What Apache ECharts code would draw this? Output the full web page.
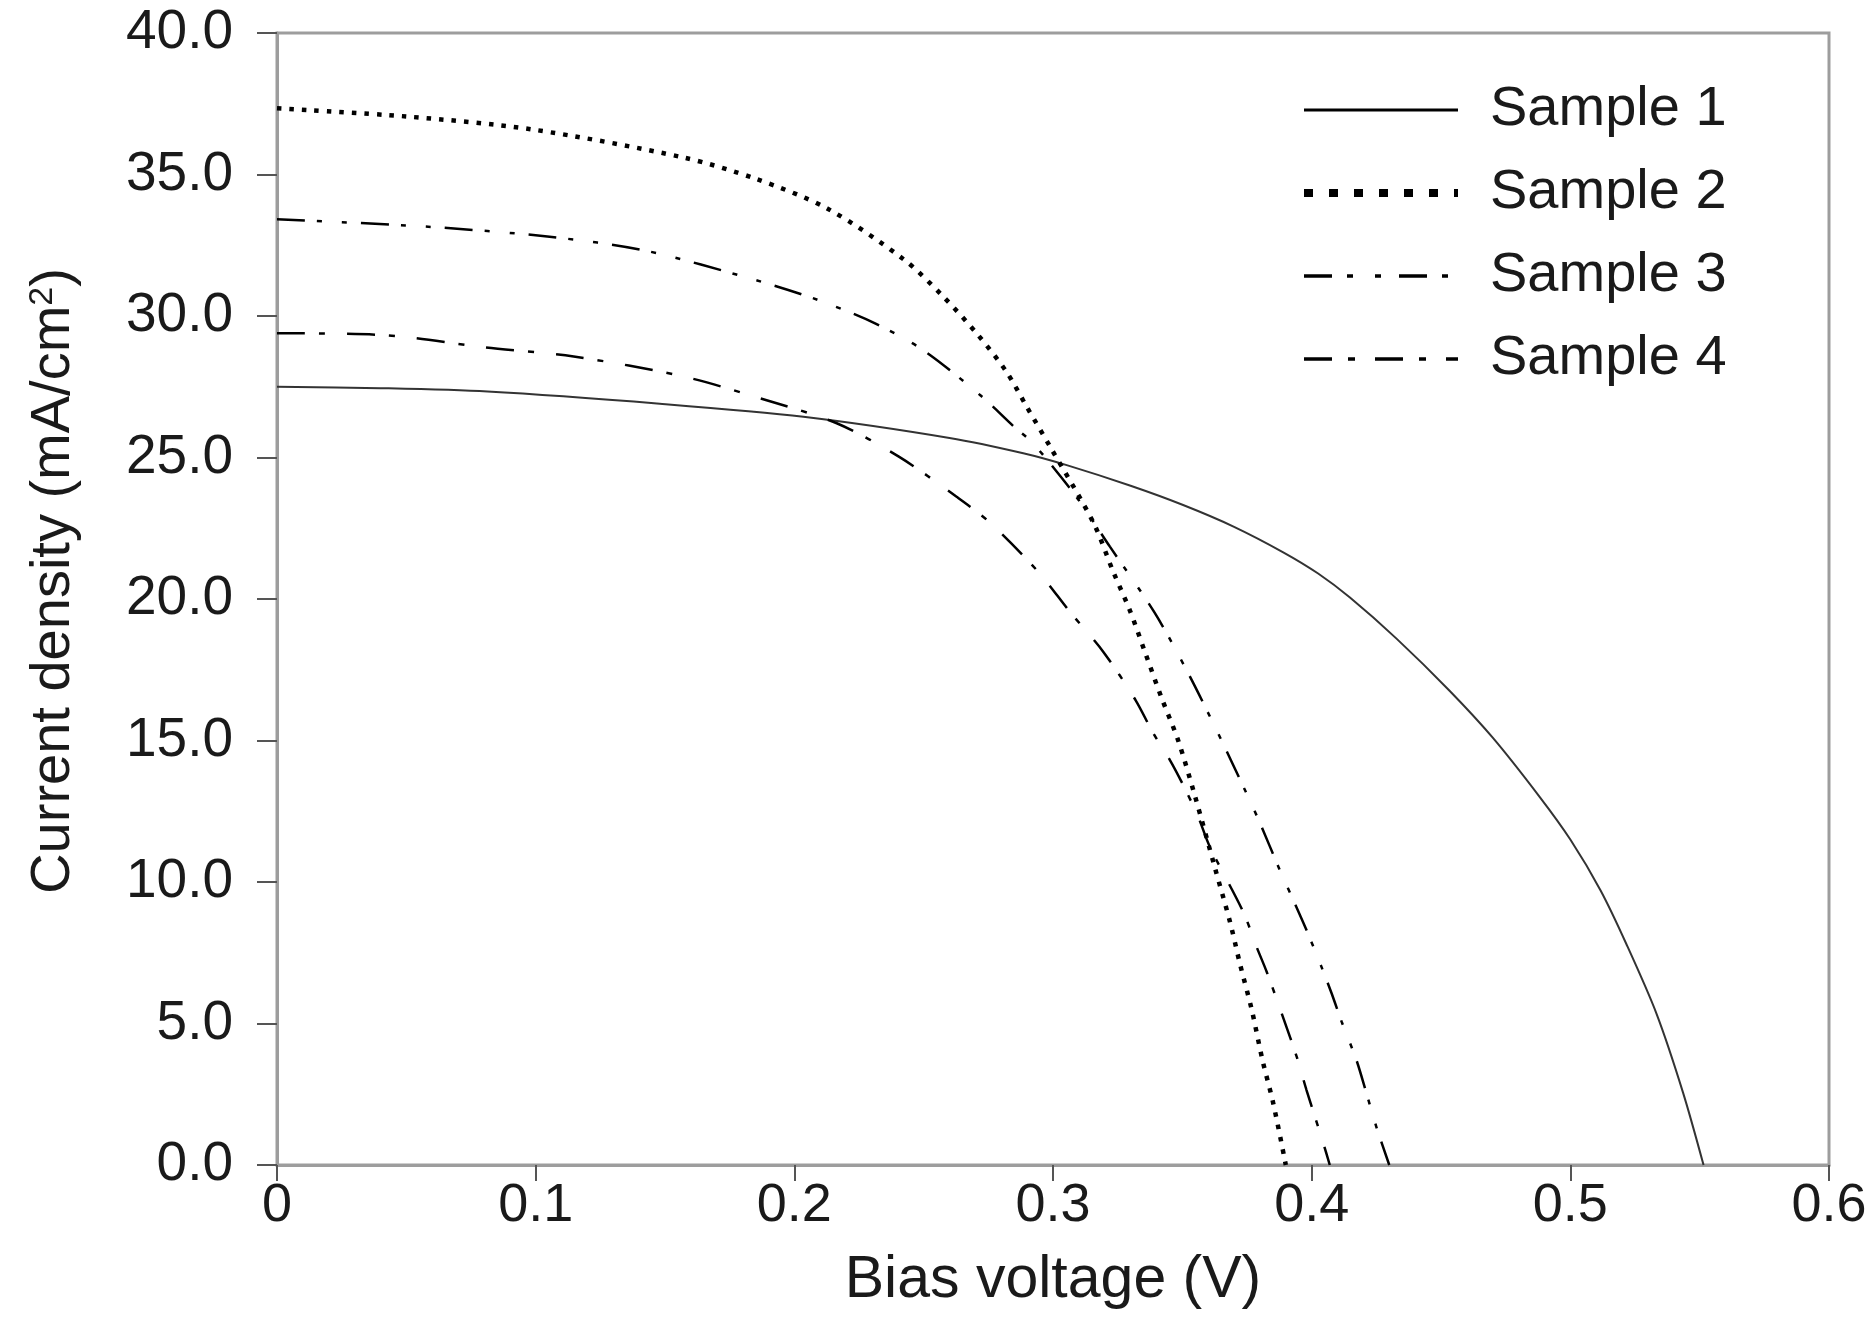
<!DOCTYPE html>
<html>
<head>
<meta charset="utf-8">
<script src="https://cdn.jsdelivr.net/npm/echarts@6/dist/echarts.min.js"></script>
<style>
html,body{margin:0;padding:0;background:#fff;}
#chart{width:1872px;height:1343px;}
</style>
</head>
<body>
<div id="chart"></div>
<script>
// ---- data (Bias voltage V, Current density mA/cm2) ----
const xTickLabels = ['0', '0.1', '0.2', '0.3', '0.4', '0.5', '0.6'];
const yTickLabels = ['0.0', '5.0', '10.0', '15.0', '20.0', '25.0', '30.0', '35.0', '40.0'];
const seriesNames = ['Sample 1', 'Sample 2', 'Sample 3', 'Sample 4'];

const sample1 = [
  [0, 27.5], [0.04, 27.45], [0.0814, 27.33], [0.148, 26.9], [0.2035, 26.44],
  [0.26, 25.69], [0.2885, 25.15], [0.3053, 24.73], [0.33, 24.0], [0.3503, 23.32],
  [0.37, 22.55], [0.389, 21.65], [0.4025, 20.9], [0.4148, 20.05], [0.4328, 18.6],
  [0.4534, 16.75], [0.47, 15.1], [0.4882, 13.0], [0.5, 11.5], [0.5117, 9.7],
  [0.5217, 7.8], [0.5333, 5.35], [0.5436, 2.55], [0.5515, 0]
];
const sample2 = [
  [0, 37.34], [0.05, 37.05], [0.098, 36.6], [0.1572, 35.6], [0.185, 34.85],
  [0.2127, 33.8], [0.2423, 32.0], [0.257, 30.74], [0.271, 29.33], [0.282, 28.03],
  [0.2898, 26.8], [0.2989, 25.38], [0.3156, 22.7], [0.3233, 20.96], [0.3297, 19.6],
  [0.3355, 18.14], [0.342, 16.5], [0.3484, 15.0], [0.355, 13.0], [0.3626, 10.5],
  [0.3684, 8.6], [0.3723, 7.1], [0.3768, 5.5], [0.381, 3.7], [0.3851, 2.2], [0.39, 0]
];
const sample3 = [
  [0, 33.42], [0.0573, 33.16], [0.1054, 32.8], [0.1424, 32.31], [0.185, 31.27],
  [0.209, 30.57], [0.2312, 29.74], [0.2497, 28.8], [0.2719, 27.2], [0.2849, 26.09],
  [0.2923, 25.5], [0.3091, 23.6], [0.322, 21.85], [0.3394, 19.5], [0.3523, 17.37],
  [0.3632, 15.37], [0.3742, 13.25], [0.3797, 12.15], [0.3877, 10.42], [0.3929, 9.36],
  [0.398, 8.3], [0.4038, 7.0], [0.4077, 6.07], [0.4116, 5.06], [0.4173, 3.71],
  [0.4212, 2.53], [0.425, 1.35], [0.43, 0]
];
const sample4 = [
  [0, 29.39], [0.0407, 29.33], [0.0795, 28.9], [0.1147, 28.57], [0.1572, 27.86],
  [0.1868, 27.09], [0.2164, 26.21], [0.2404, 25.03], [0.2626, 23.62], [0.2756, 22.7],
  [0.2943, 20.96], [0.3065, 19.55], [0.3194, 18.14], [0.3319, 16.43], [0.3388, 15.25],
  [0.3452, 14.31], [0.3503, 13.43], [0.3561, 12.31], [0.3606, 11.25], [0.3735, 8.95],
  [0.3787, 7.71], [0.3826, 6.83], [0.387, 5.72], [0.3942, 3.83], [0.398, 2.65],
  [0.4045, 0.77], [0.407, 0]
];

const FONT = 'Liberation Sans, Arial, Helvetica, sans-serif';
const TXT = '#1a1a1a';
const FRAME = '#9d9d9d';

const chart = echarts.init(document.getElementById('chart'), null, {renderer: 'canvas'});

const lineStyles = [
  {color: '#333333', width: 2, type: 'solid'},
  {color: '#000', width: 4.5, type: [4.5, 8]},
  {color: '#000', width: 2.5, type: [28, 12, 5, 20, 5, 14]},
  {color: '#000', width: 2.5, type: [28, 14, 6, 22]}
];
const legendLineStyles = [
  {color: '#000', width: 3, type: 'solid'},
  {color: '#000', width: 8, type: [9, 16]},
  {color: '#000', width: 3.5, type: [28, 15, 6, 22, 6, 18]},
  {color: '#000', width: 3.5, type: [28, 16, 7, 20]}
];
const datasets = [sample1, sample2, sample3, sample4];

chart.setOption({
  animation: false,
  backgroundColor: '#fff',
  grid: {
    left: 277, right: 43, top: 33, bottom: 178,
    containLabel: false, outerBoundsMode: 'none',
    show: true, borderColor: FRAME, borderWidth: 3, backgroundColor: 'transparent'
  },
  legend: {
    orient: 'vertical',
    left: 1300, top: 80, padding: 0,
    itemWidth: 154, itemHeight: 20, itemGap: 23,
    textStyle: {fontFamily: FONT, fontSize: 56, color: TXT, lineHeight: 60, padding: [0, 0, 0, 27]},
    data: seriesNames.map((n, i) => ({name: n, lineStyle: legendLineStyles[i], itemStyle: {opacity: 0}}))
  },
  xAxis: {
    type: 'value', min: 0, max: 0.6, interval: 0.1,
    name: 'Bias voltage (V)', nameLocation: 'middle', nameGap: 86,
    nameMoveOverlap: false,
    nameTextStyle: {fontFamily: FONT, fontSize: 59, color: TXT},
    axisLine: {show: true, onZero: false, lineStyle: {color: FRAME, width: 3}},
    axisTick: {show: true, inside: false, length: 16, lineStyle: {color: '#555', width: 2}},
    axisLabel: {
      margin: 14, fontFamily: FONT, fontSize: 54, color: TXT,
      formatter: (v) => xTickLabels[Math.round(v * 10)]
    },
    splitLine: {show: false}
  },
  yAxis: {
    type: 'value', min: 0, max: 40, interval: 5,
    name: 'Current density (mA/cm{sup|2})', nameLocation: 'middle', nameGap: 195,
    nameRotate: 90, nameMoveOverlap: false,
    nameTextStyle: {
      fontFamily: FONT, fontSize: 56, color: TXT, padding: [0, 0, 0, 36],
      rich: {sup: {fontFamily: FONT, fontSize: 34, color: TXT, verticalAlign: 'top', padding: [0, 0, 22, 0]}}
    },
    axisLine: {show: true, lineStyle: {color: FRAME, width: 3}},
    axisTick: {show: true, inside: false, length: 20, lineStyle: {color: '#555', width: 2}},
    axisLabel: {
      margin: 44, fontFamily: FONT, fontSize: 55, color: TXT,
      formatter: (v) => yTickLabels[Math.round(v / 5)]
    },
    splitLine: {show: false}
  },
  series: datasets.map((d, i) => ({
    name: seriesNames[i],
    type: 'line',
    data: d,
    smooth: 0.3,
    symbol: 'none',
    showSymbol: false,
    lineStyle: lineStyles[i],
    itemStyle: {color: '#000'},
    z: 3
  }))
});
</script>
</body>
</html>
